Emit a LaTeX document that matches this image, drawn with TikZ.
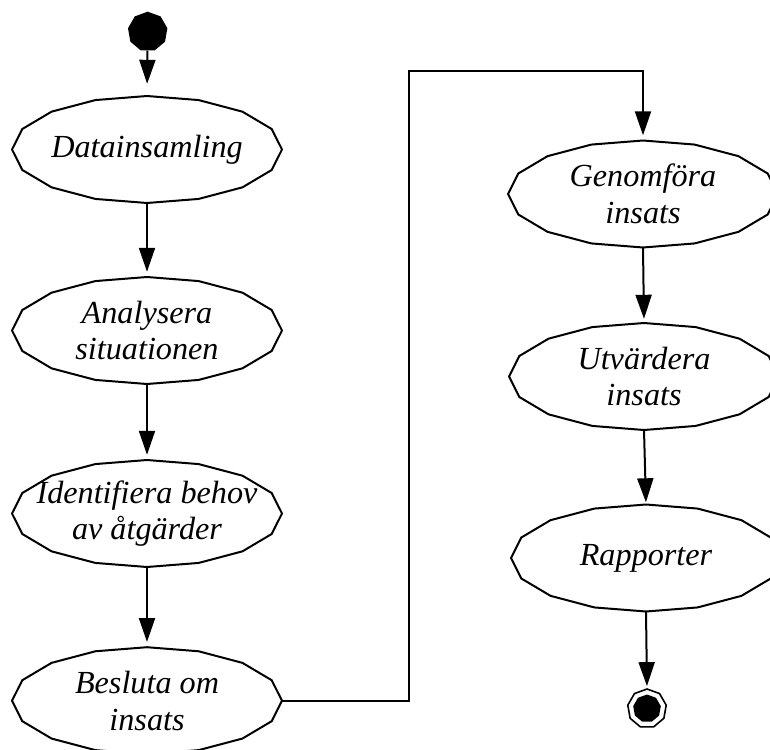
\documentclass[tikz,border=0pt]{standalone}
\usepackage{fontspec}
\setmainfont{Liberation Serif}
\usetikzlibrary{arrows.meta,shapes.geometric}

\tikzset{
  activity/.style={ellipse, draw=none, minimum width=270pt, minimum height=107pt,
    inner sep=0pt, align=center,
    font=\itshape\fontsize{32.2}{36.7}\selectfont},
  outline/.style={line width=2pt, line join=round},
  flow/.style={line width=2pt, -{Triangle[length=24pt,width=16pt]}},
  startnode/.style={regular polygon, regular polygon sides=9, minimum size=40pt,
    inner sep=0pt, fill=black},
  endring/.style={regular polygon, regular polygon sides=9, minimum size=39pt,
    inner sep=0pt, draw, line width=1.6pt, fill=white},
  enddot/.style={regular polygon, regular polygon sides=9, minimum size=28pt,
    inner sep=0pt, fill=black},
}

\begin{document}
\begin{tikzpicture}[x=1pt, y=-1pt]
  \useasboundingbox (0,0) rectangle (770,749);

  % initial and final states
  \node[startnode] (start) at (147.7,31.7) {};
  \node[endring] (stop) at (647,708.5) {};
  \node[enddot] (stopdot) at (stop.center) {};

  % activities, left column
  \node[activity] (D) at (147,149.5) {Datainsamling};
  \node[activity] (A) at (147,330.5) {Analysera\\situationen};
  \node[activity] (I) at (147,513.5) {Identifiera behov\\av åtgärder};
  \node[activity] (B) at (147,700.7) {Besluta om\\insats};

  % activities, right column
  \node[activity] (G) at (643,194) {Genomföra\\insats};
  \node[activity] (U) at (644,376.5) {Utvärdera\\insats};
  \node[activity] (R) at (646,558) {Rapporter};

  % polygonal outlines of the activity ellipses
  \foreach \n in {D,A,I,B,G,U,R}
    \draw[outline, shift={(\n.center)}]
      plot[samples=17, domain=0:360] ({135*cos(\x)},{53.5*sin(\x)}) -- cycle;

  % control flow
  \draw[flow, shorten >=12pt] (start) -- (D.north);
  \draw[flow, shorten >=5pt] (D.south) -- (A.north);
  \draw[flow, shorten >=5pt] (A.south) -- (I.north);
  \draw[flow, shorten >=5pt] (I.south) -- (B.north);
  \coordinate (bend) at (409.3,70.7);
  \draw[flow, shorten >=5pt] (B.east) -| (bend) -| (G.north);
  \draw[flow, shorten >=4pt] (G.south) -- (U.north);
  \draw[flow, shorten >=2pt] (U.south) -- (R.north);
  \draw[flow, shorten >=2pt] (R.south) -- (stop.north);
\end{tikzpicture}
\end{document}
